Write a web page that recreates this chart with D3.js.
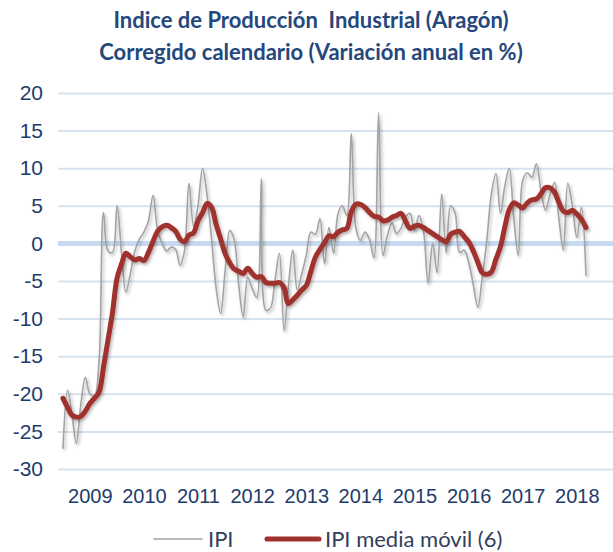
<!DOCTYPE html>
<html>
<head>
<meta charset="utf-8">
<script src="https://cdn.jsdelivr.net/npm/d3@7/dist/d3.min.js"></script>
<style>
  body { margin: 0; background: #fff; }
  svg { display: block; font-family: Lato, "Open Sans", sans-serif; }
</style>
</head>
<body>
<script>
const titleLines = ["Indice de Producción  Industrial (Aragón)", "Corregido calendario (Variación anual en %)"];
const seriesNames = ["IPI", "IPI media móvil (6)"];
const firstMonth = [2009, 0];   // enero 2009, datos mensuales
const years = [2009, 2010, 2011, 2012, 2013, 2014, 2015, 2016, 2017, 2018];
const yTicks = [20, 15, 10, 5, 0, -5, -10, -15, -20, -25, -30];

const ipi = [
  -27.3, -19.5, -22.5, -26.6, -21.5, -17.8, -20.0, -20.3, -15.8, 4.1, -1.0, -1.2,
  5.0, -1.5, -6.5, -4.0, -1.0, 0.6, 1.5, 3.0, 6.4, 1.8, 0.0, -1.0,
  -0.5, -0.8, -2.9, -1.0, 8.0, 2.3, 5.0, 10.0, 6.3, 0.5, -6.0, -9.3,
  -3.5, 1.7, 0.5, -5.5, -9.8, -4.5, -6.0, -7.2, 8.6, -8.9, -8.6, -5.0,
  -1.3, -11.6, -6.0, -0.9, -6.2, -4.0, -1.6, 1.5, 1.2, 3.3, -2.7, 2.1,
  -1.3, 4.0, 5.0, 3.7, 14.6, 2.0, 0.4, 1.5, 0.5, -1.9, 17.4, -1.6,
  1.2, 2.7, 1.3, 2.0, 3.5, 4.0, 1.7, 3.7, 1.5, -5.3, 0.0, -3.9,
  6.6, -1.3, 5.0, 4.0, -1.2, -0.9, -2.5, -5.5, -8.5, -4.5, 0.5, 6.5,
  9.3, 4.0, 7.5, 10.0, 3.5, -1.6, 8.4, 9.4, 8.8, 10.6, 7.0, 4.4,
  6.5, 8.1, 3.5, -0.9, 8.0, 5.0, 0.8, 4.8, -4.3
];

const ipiMedia = [
  -20.6, -21.8, -22.8, -23.1, -23.0, -22.3, -21.3, -20.6, -19.8, -16.5, -12.8, -9.2,
  -4.6, -2.7, -1.3, -1.8, -2.2, -2.0, -2.3, -1.2, 0.3, 1.6, 2.2, 2.4,
  2.1, 1.6, 0.6, 0.2, 1.1, 1.4, 3.0, 4.1, 5.3, 4.8, 2.5, 0.6,
  -1.4, -2.6, -3.4, -3.7, -4.0, -3.3, -4.0, -4.5, -4.4, -5.2, -5.3, -5.3,
  -5.2, -5.9, -8.0, -7.5, -6.9, -6.2, -5.6, -3.7, -1.8, -0.8, 0.1, 1.0,
  0.9, 1.5, 1.8, 2.0, 4.2, 5.2, 5.2, 4.8, 4.1, 3.6, 3.5, 3.0,
  3.1, 3.5, 3.7, 4.0, 3.0, 2.0, 2.3, 2.4, 2.1, 1.7, 1.3, 0.9,
  0.5, 0.2, 1.2, 1.5, 1.6, 0.9, 0.2, -1.0, -2.5, -3.9, -4.1, -3.8,
  -2.1, -0.4, 2.1, 4.5, 5.4, 5.1, 4.7, 5.4, 5.8, 5.9, 6.6, 7.4,
  7.4, 6.8, 5.5, 4.3, 4.1, 4.4, 3.9, 3.2, 2.1
];

const width = 613;
const height = 552;
const plot = { left: 58, right: 613, top: 93, bottom: 469 };
const navy = "#213c6b";

const months = ipi.map((d, i) => new Date(firstMonth[0], firstMonth[1] + i, 1));

const svg = d3.select("body")
  .append("svg")
  .attr("width", width)
  .attr("height", height);

// soft shadow like the office chart
const shadow = svg.append("defs").append("filter")
  .attr("id", "shadow")
  .attr("x", "-5%").attr("y", "-5%")
  .attr("width", "110%").attr("height", "120%");
shadow.append("feDropShadow")
  .attr("dx", 1.5).attr("dy", 2)
  .attr("stdDeviation", 1.5)
  .attr("flood-color", "#000")
  .attr("flood-opacity", 0.3);

// Title
svg.append("g")
  .selectAll("text")
  .data(titleLines)
  .enter()
  .append("text")
  .attr("x", 311)
  .attr("y", (d, i) => 28 + i * 32)
  .attr("text-anchor", "middle")
  .style("font-size", "22px")
  .style("font-weight", "bold")
  .style("fill", "#24477c")
  .style("white-space", "pre")
  .text(d => d);

// Scales
const x = d3.scaleTime()
  .domain([months[0], months[months.length - 1]])
  .range([63, 586]);

const y = d3.scaleLinear()
  .domain([-30, 20])
  .range([plot.bottom, plot.top]);

// Y gridlines + labels
const yAxis = svg.append("g")
  .attr("transform", "translate(" + plot.left + ",0)")
  .call(d3.axisLeft(y)
    .tickValues(yTicks)
    .tickSize(-(plot.right - plot.left))
    .tickPadding(15)
    .tickFormat(d => d < 0 ? "-" + Math.abs(d) : d));

yAxis.select(".domain").remove();
yAxis.selectAll("line")
  .attr("stroke", "#d7e2f1")
  .attr("stroke-width", 2);
yAxis.selectAll("text")
  .style("font-size", "21px")
  .style("fill", navy);

// zero line is heavier
svg.append("line")
  .attr("x1", plot.left)
  .attr("x2", plot.right)
  .attr("y1", y(0))
  .attr("y2", y(0))
  .attr("stroke", "#c8daf0")
  .attr("stroke-width", 5);

// X axis year labels (centred on July)
const xAxis = svg.append("g")
  .attr("transform", "translate(0,486)")
  .call(d3.axisBottom(x)
    .tickValues(years.map(yr => new Date(yr, 6, 1)))
    .tickSize(0)
    .tickFormat(d3.timeFormat("%Y")));

xAxis.select(".domain").remove();
xAxis.selectAll("text")
  .style("font-size", "20px")
  .style("fill", navy);

// Lines
const line = d3.line()
  .x((d, i) => x(months[i]))
  .y(d => y(d))
  .curve(d3.curveCatmullRom.alpha(0.5));

svg.append("path")
  .datum(ipi)
  .attr("d", line)
  .attr("fill", "none")
  .attr("stroke", "#a3a3a3")
  .attr("stroke-width", 1.6)
  .attr("filter", "url(#shadow)");

svg.append("path")
  .datum(ipiMedia)
  .attr("d", line)
  .attr("fill", "none")
  .attr("stroke", "#a0312d")
  .attr("stroke-width", 5)
  .attr("stroke-linejoin", "round")
  .attr("stroke-linecap", "round")
  .attr("filter", "url(#shadow)");

// Legend
const legendStyles = [
  { x: 154, w: 48, color: "#a3a3a3", sw: 1.6 },
  { x: 267, w: 52, color: "#a0312d", sw: 5 }
];
const legend = svg.append("g")
  .selectAll("g")
  .data(seriesNames)
  .enter()
  .append("g")
  .attr("transform", (d, i) => "translate(" + legendStyles[i].x + ",539)");

legend.append("line")
  .attr("x1", 0)
  .attr("x2", (d, i) => legendStyles[i].w)
  .attr("stroke", (d, i) => legendStyles[i].color)
  .attr("stroke-width", (d, i) => legendStyles[i].sw)
  .attr("stroke-linecap", "round");

legend.append("text")
  .attr("x", (d, i) => legendStyles[i].w + 6)
  .attr("dy", "0.35em")
  .style("font-size", "22px")
  .style("fill", "#33405a")
  .text(d => d);
</script>
</body>
</html>
